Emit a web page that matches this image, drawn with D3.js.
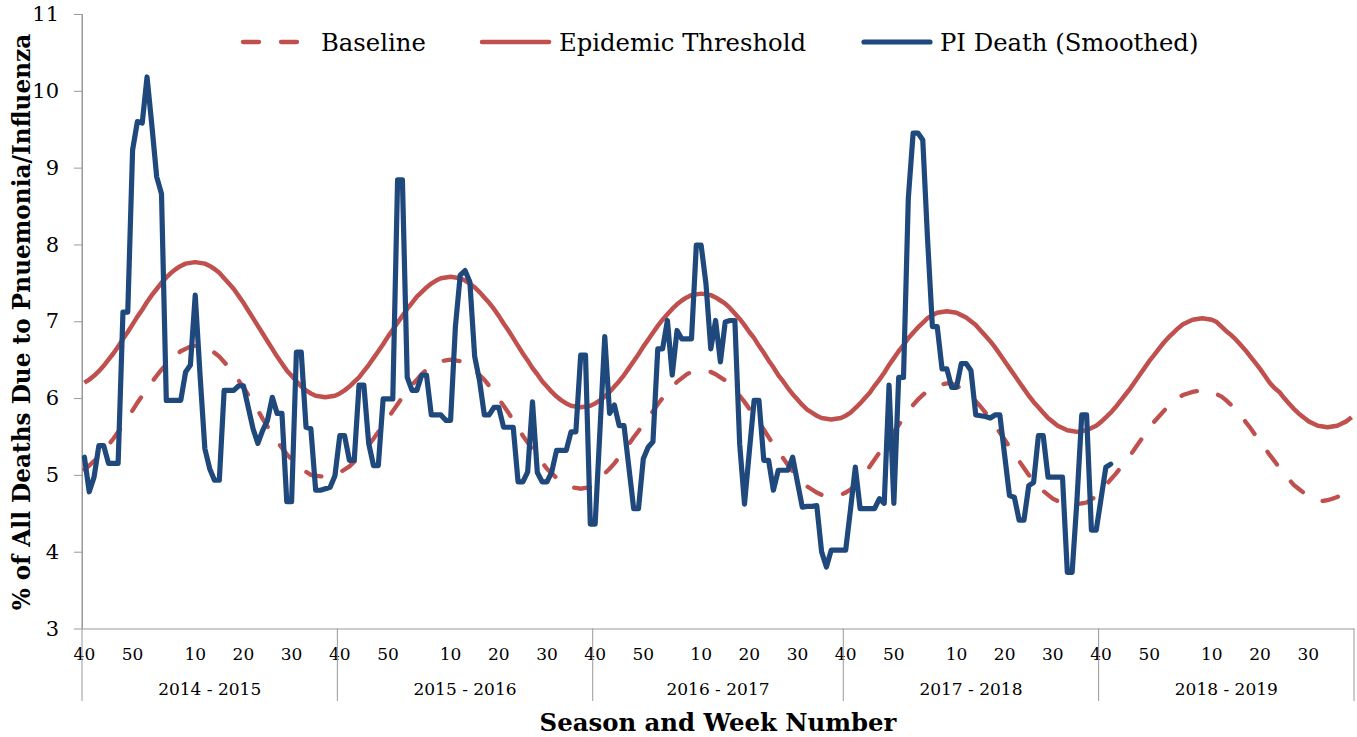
<!DOCTYPE html>
<html><head><meta charset="utf-8">
<script src="https://cdn.jsdelivr.net/npm/d3@7"></script>
<style>
body{margin:0;background:#fff;}
svg{display:block;}
text{font-family:"DejaVu Serif",serif;fill:#000;}
</style>
</head><body>
<svg id="chart" width="1357" height="737"></svg>
<script>
// ---------------- DATA ----------------
const seasons = ["2014 - 2015","2015 - 2016","2016 - 2017","2017 - 2018","2018 - 2019"];
const seasonWeeks = [53, 53, 52, 53, 53];
const weekTickLabels = [40, 50, 10, 20, 30];
const yTickValues = [3, 4, 5, 6, 7, 8, 9, 10, 11];
const seriesNames = ["Baseline", "Epidemic Threshold", "PI Death (Smoothed)"];

const baseline = [
5.07,5.12,5.18,5.24,5.31,5.39,5.47,5.56,5.65,5.74,5.84,5.94,6.03,6.12,6.21,6.29,6.37,6.44,6.50,6.56,6.61,6.64,6.67,6.68,6.69,
6.67,6.63,6.59,6.54,6.47,6.40,6.32,6.23,6.14,6.04,5.94,5.84,5.73,5.63,5.53,5.44,5.35,5.27,5.20,5.13,5.08,5.04,5.00,4.99,4.98,4.98,
4.99,5.00,5.03,5.07,5.11,5.17,5.24,5.31,5.39,5.47,5.56,5.65,5.74,5.83,5.92,6.01,6.09,6.17,6.24,6.31,6.37,6.41,6.45,6.48,6.49,6.50,
6.49,6.48,6.45,6.41,6.36,6.30,6.24,6.16,6.08,5.99,5.90,5.81,5.71,5.61,5.51,5.42,5.33,5.24,5.16,5.08,5.02,4.96,4.91,4.87,4.84,4.83,4.82,
4.83,4.84,4.90,4.96,5.02,5.08,5.15,5.23,5.31,5.40,5.49,5.57,5.66,5.74,5.83,5.92,6.00,6.08,6.15,6.21,6.26,6.31,6.34,6.35,6.36,
6.35,6.34,6.31,6.27,6.23,6.17,6.10,6.03,5.95,5.86,5.78,5.68,5.59,5.49,5.40,5.30,5.22,5.13,5.05,4.98,4.91,4.85,4.81,4.77,4.74,4.73,4.72,
4.73,4.74,4.77,4.81,4.86,4.93,5.01,5.11,5.20,5.29,5.38,5.47,5.56,5.65,5.74,5.83,5.91,5.98,6.04,6.09,6.14,6.16,6.18,6.19,6.19,
6.16,6.12,6.08,6.02,5.96,5.89,5.81,5.73,5.64,5.55,5.46,5.36,5.27,5.18,5.09,5.00,4.92,4.85,4.79,4.74,4.69,4.66,4.64,4.63,4.62,4.62,
4.63,4.64,4.68,4.72,4.80,4.87,4.94,5.01,5.09,5.17,5.25,5.34,5.43,5.52,5.61,5.69,5.76,5.83,5.90,5.96,6.00,6.04,6.06,6.08,6.09,6.10,
6.09,6.08,6.05,6.02,5.97,5.91,5.84,5.77,5.69,5.61,5.52,5.44,5.35,5.26,5.18,5.09,5.02,4.94,4.87,4.82,4.77,4.72,4.69,4.67,4.66,4.67,
4.69,4.71,4.75,4.79,4.83
];

const threshold = [
6.20,6.24,6.29,6.35,6.42,6.50,6.58,6.67,6.77,6.86,6.96,7.06,7.15,7.25,7.34,7.42,7.50,7.57,7.63,7.68,7.72,7.75,7.76,7.77,
7.76,7.75,7.72,7.68,7.63,7.56,7.49,7.42,7.33,7.24,7.14,7.04,6.94,6.84,6.74,6.64,6.54,6.45,6.36,6.29,6.22,6.15,6.10,6.06,6.03,6.02,6.01,
6.02,6.03,6.06,6.10,6.15,6.21,6.27,6.35,6.43,6.52,6.61,6.70,6.80,6.89,6.98,7.07,7.16,7.24,7.32,7.38,7.44,7.49,7.53,7.56,7.57,7.58,
7.57,7.56,7.53,7.49,7.44,7.38,7.31,7.24,7.16,7.07,6.97,6.88,6.78,6.68,6.58,6.49,6.39,6.31,6.22,6.15,6.08,6.02,5.97,5.93,5.90,5.89,5.88,
5.89,5.90,5.93,5.97,6.02,6.08,6.15,6.22,6.30,6.39,6.48,6.57,6.67,6.76,6.85,6.94,7.02,7.09,7.16,7.22,7.27,7.31,7.34,7.35,7.36,
7.35,7.34,7.31,7.27,7.23,7.17,7.10,7.03,6.95,6.86,6.78,6.68,6.59,6.49,6.40,6.30,6.22,6.13,6.05,5.98,5.91,5.85,5.81,5.77,5.74,5.73,5.72,
5.73,5.74,5.77,5.81,5.87,5.93,6.00,6.07,6.16,6.24,6.33,6.43,6.52,6.61,6.69,6.78,6.85,6.92,6.98,7.04,7.08,7.11,7.12,7.13,
7.12,7.11,7.08,7.05,7.00,6.95,6.88,6.81,6.74,6.66,6.57,6.48,6.39,6.30,6.21,6.12,6.03,5.95,5.88,5.81,5.74,5.69,5.64,5.61,5.58,5.57,5.56,
5.57,5.58,5.61,5.64,5.69,5.75,5.81,5.88,5.96,6.04,6.12,6.21,6.30,6.39,6.48,6.56,6.64,6.72,6.79,6.85,6.91,6.96,6.99,7.02,7.03,7.04,
7.03,7.02,6.99,6.93,6.87,6.82,6.76,6.69,6.62,6.54,6.46,6.38,6.29,6.20,6.13,6.08,6.00,5.93,5.86,5.80,5.75,5.70,5.67,5.64,5.63,5.62,
5.63,5.64,5.67,5.70,5.75
];

const piDeath = [
5.23,4.78,4.97,5.38,5.38,5.15,5.15,5.15,7.12,7.12,9.23,9.60,9.58,10.18,9.55,8.88,8.66,5.97,5.97,5.97,
5.97,6.34,6.43,7.34,6.30,5.34,5.08,4.93,4.93,6.10,6.10,6.10,6.16,6.16,5.88,5.60,5.41,5.58,5.71,6.01,
5.80,5.80,4.65,4.65,6.60,6.60,5.62,5.60,4.80,4.80,4.82,4.84,4.99,5.51,5.51,5.19,5.19,6.17,6.17,5.41,
5.12,5.12,5.99,5.99,5.99,8.84,8.84,6.27,6.10,6.10,6.30,6.30,5.78,5.78,5.78,5.71,5.71,6.93,7.60,7.66,
7.51,6.54,6.23,5.78,5.78,5.88,5.88,5.62,5.62,5.62,4.91,4.91,5.04,5.95,5.03,4.91,4.91,5.04,5.32,5.32,
5.32,5.56,5.56,6.56,6.56,4.36,4.36,5.58,6.80,5.80,5.91,5.64,5.64,5.10,4.56,4.56,5.21,5.36,5.43,6.64,
6.64,7.01,6.30,6.88,6.77,6.77,6.77,7.99,7.99,7.49,6.64,7.01,6.47,6.99,7.01,7.01,5.40,4.62,5.30,5.97,
5.97,5.19,5.19,4.80,5.06,5.06,5.06,5.23,4.90,4.58,4.59,4.59,4.60,4.00,3.80,4.02,4.02,4.02,4.02,4.55,
5.10,4.56,4.56,4.56,4.56,4.69,4.63,6.17,4.63,6.27,6.27,8.60,9.45,9.45,9.36,8.06,6.93,6.93,6.38,6.38,
6.14,6.14,6.45,6.45,6.36,5.78,5.77,5.76,5.74,5.78,5.78,5.25,4.73,4.71,4.41,4.41,4.86,4.90,5.51,5.51,
4.97,4.97,4.97,4.97,3.73,3.73,4.67,5.78,5.78,4.28,4.28,4.69,5.10,5.14
];

// ---------------- CATEGORIES ----------------
const categories = [];
const seasonStart = [];
seasons.forEach((s, si) => {
  seasonStart.push(categories.length);
  const n = seasonWeeks[si];
  for (let w = 40; w <= n; w++) categories.push({season: s, week: w});
  for (let w = 1; w <= 39; w++) categories.push({season: s, week: w});
});
const total = categories.length;

// ---------------- LAYOUT ----------------
const RED = "#C0504D", BLUE = "#1F497D", AXIS = "#999999";
const svg = d3.select("#chart");
const xb = d3.scaleBand().domain(d3.range(total)).range([82, 1354]).padding(0);
const xc = i => xb(i) + xb.bandwidth() / 2;
const xEdge = i => (i >= total ? xb.range()[1] : xb(i));
const y = d3.scaleLinear().domain([3, 11]).range([628.5, 14]);

// y axis
const yAxis = svg.append("g").attr("transform", "translate(82,0)")
  .call(d3.axisLeft(y).tickValues(yTickValues).tickSize(8).tickSizeOuter(0).tickPadding(15).tickFormat(d3.format("d")));
yAxis.select(".domain").attr("stroke", AXIS);
yAxis.selectAll(".tick line").attr("stroke", AXIS);
yAxis.selectAll(".tick text").attr("font-size", 21).attr("font-family", "DejaVu Serif").attr("fill", "#000");

// x axis (category axis, labels at band centres)
const tickIdx = categories.map((c, i) => i).filter(i => weekTickLabels.includes(categories[i].week));
const xAxis = svg.append("g").attr("transform", "translate(0,628.5)")
  .call(d3.axisBottom(xb).tickValues(tickIdx).tickSize(0).tickSizeOuter(0).tickFormat(i => categories[i].week));
xAxis.select(".domain").attr("stroke", AXIS);
xAxis.selectAll(".tick text").attr("y", 31).attr("dy", 0).attr("font-size", 17)
  .attr("font-family", "DejaVu Serif").attr("fill", "#000");

// season dividers
const bounds = seasonStart.concat([total]);
svg.append("g").selectAll("line").data(bounds).join("line")
  .attr("x1", d => xEdge(d)).attr("x2", d => xEdge(d))
  .attr("y1", (d, i) => i === 0 ? y(11) : 628.5).attr("y2", 701)
  .attr("stroke", AXIS).attr("stroke-width", 1);

svg.append("g").selectAll("text").data(seasons).join("text")
  .attr("x", (d, i) => (xEdge(bounds[i]) + xEdge(bounds[i + 1])) / 2)
  .attr("y", 695).attr("text-anchor", "middle").attr("font-size", 17).text(d => d);

// lines
const line = d3.line().x((d, i) => xc(i)).y(d => y(d));
svg.append("path").datum(baseline).attr("d", line).attr("fill", "none")
  .attr("stroke", RED).attr("stroke-width", 4.3).attr("stroke-dasharray", "16,22").attr("stroke-linecap", "round");
svg.append("path").datum(threshold).attr("d", line).attr("fill", "none")
  .attr("stroke", RED).attr("stroke-width", 4.5).attr("stroke-linejoin", "round");
svg.append("path").datum(piDeath).attr("d", line).attr("fill", "none")
  .attr("stroke", BLUE).attr("stroke-width", 5.2).attr("stroke-linejoin", "round").attr("stroke-linecap", "round");

// legend
const legend = svg.append("g");
const legItems = [
  {name: seriesNames[0], x1: 243, x2: 307, tx: 321, color: RED, dash: "16,22", w: 4.3},
  {name: seriesNames[1], x1: 482, x2: 549, tx: 559, color: RED, dash: null, w: 4.5},
  {name: seriesNames[2], x1: 864, x2: 930, tx: 940, color: BLUE, dash: null, w: 5.2}
];
legItems.forEach(it => {
  legend.append("line").attr("x1", it.x1).attr("x2", it.x2).attr("y1", 42).attr("y2", 42)
    .attr("stroke", it.color).attr("stroke-width", it.w).attr("stroke-linecap", "round")
    .attr("stroke-dasharray", it.dash);
  legend.append("text").attr("x", it.tx).attr("y", 51).attr("font-size", 24.3).text(it.name);
});

// titles
function fit(sel, target) {
  const fs = parseFloat(sel.attr("font-size"));
  const w = sel.node().getComputedTextLength();
  if (w > 0) sel.attr("font-size", fs * target / w);
}
const xt = svg.append("text").attr("x", 718).attr("y", 731).attr("text-anchor", "middle")
  .attr("font-weight", "bold").attr("font-size", 23).text("Season and Week Number");
fit(xt, 357);
const yt = svg.append("text").attr("transform", "translate(30,322) rotate(-90)").attr("text-anchor", "middle")
  .attr("font-weight", "bold").attr("font-size", 22).text("% of All Deaths Due to Pnuemonia/Influenza");
fit(yt, 577);
</script>
</body></html>
